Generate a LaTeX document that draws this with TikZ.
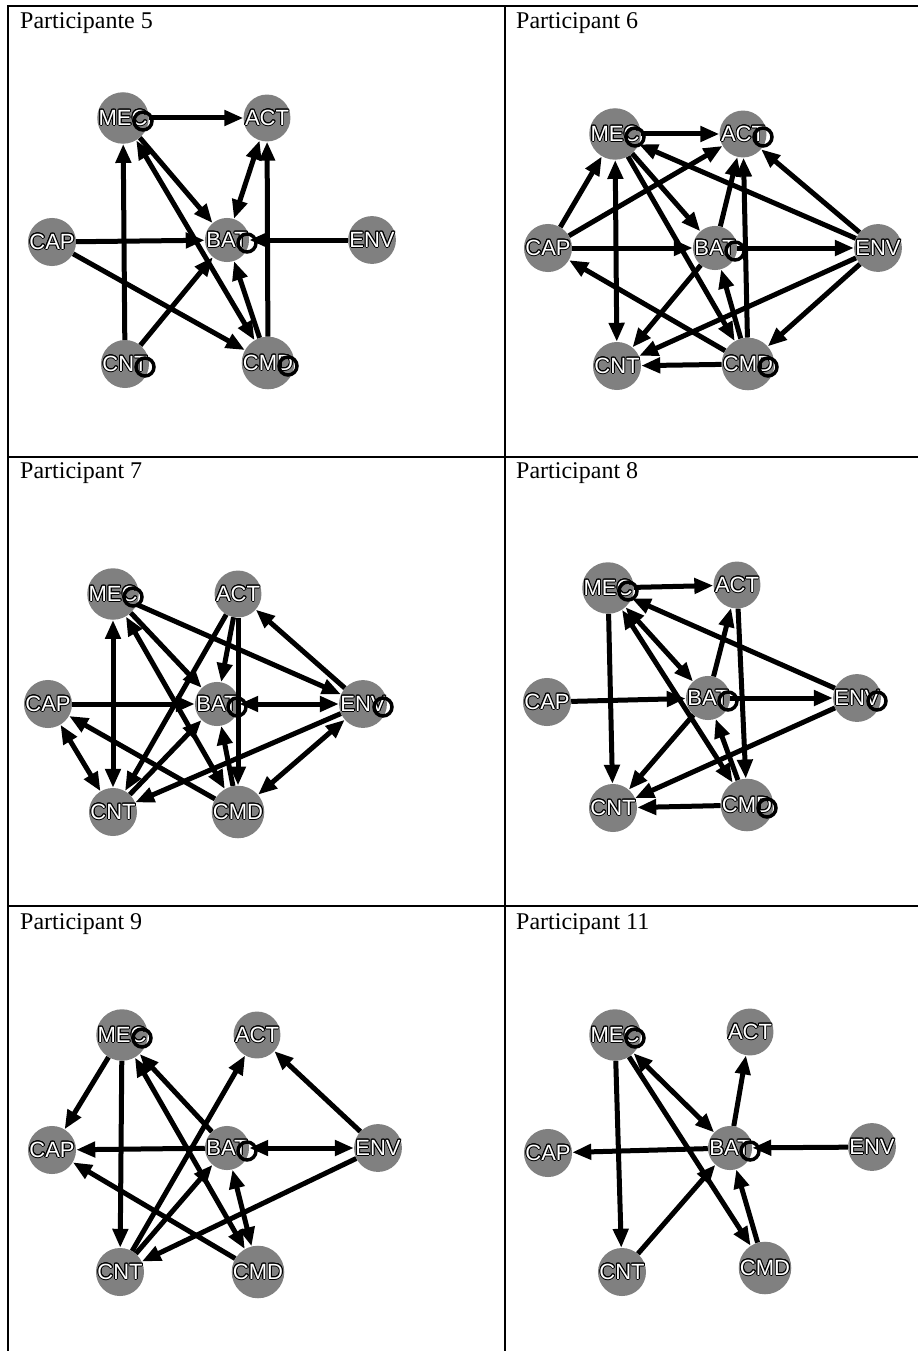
\documentclass[tikz,border=0pt]{standalone}
\usepackage{fontspec}
\setmainfont{Liberation Serif}
\newfontfamily\labfont{Liberation Sans}
\usepackage[copies]{contour}
\contourlength{0.9pt}
\usepackage{tikz}
\usetikzlibrary{arrows.meta, positioning}
\definecolor{nodegray}{RGB}{128,128,128}
\newcommand{\lab}[1]{\contour{black}{#1}}
\tikzstyle{actor} = [circle, fill=nodegray, minimum size=38pt, inner sep=0pt, text=white, font=\labfont\fontsize{22}{22}\selectfont]
\tikzstyle{arrow} = [line width=5pt, -{Triangle[length=19pt,width=15pt]}]
\tikzstyle{both} = [line width=5pt, {Triangle[length=19pt,width=15pt]}-{Triangle[length=19pt,width=15pt]}]
\tikzstyle{selfring} = [line width=3.5pt, draw=black]
\tikzstyle{frame} = [line width=2pt, draw=black]
\tikzstyle{title} = [anchor=base west, inner sep=0pt, font=\fontsize{24}{24}\selectfont]

\begin{document}
\begin{tikzpicture}[x=1pt, y=-1pt]
\useasboundingbox (0,0) rectangle (918,1351);

% table lines
\draw [frame] (8,6.5) -- (918,6.5);
\draw [frame] (8,457) -- (918,457);
\draw [frame] (8,906) -- (918,906);
\draw [frame] (8,5.5) -- (8,1351);
\draw [frame] (505,5.5) -- (505,1351);

\node (t5) [title] at (20,29) {Participante 5};
\node (t6) [title] at (516,29) {Participant 6};
\node (t7) [title] at (20,478) {Participant 7};
\node (t8) [title] at (516,478) {Participant 8};
\node (t9) [title] at (20,929) {Participant 9};
\node (t11) [title] at (516,929) {Participant 11};

% Participante 5
\node (mec5) [actor] at (123,118) {\lab{MEC}};
\node (act5) [actor] at (267,118) {\lab{ACT}};
\node (cap5) [actor] at (52,242) {\lab{CAP}};
\node (bat5) [actor] at (227,240) {\lab{BAT}};
\node (env5) [actor] at (372,240) {\lab{ENV}};
\node (cnt5) [actor] at (125,364) {\lab{CNT}};
\node (cmd5) [actor] at (268,363) {\lab{CMD}};
\draw [arrow] (mec5) -- (act5);
\draw [arrow] (cnt5) -- (mec5);
\draw [arrow] (cmd5) -- (act5);
\draw [both] (act5) -- (bat5);
\draw [arrow] (mec5) -- (bat5);
\draw [both] (mec5) -- (cmd5);
\draw [arrow] (cap5) -- (bat5);
\draw [arrow] (env5) -- (bat5);
\draw [arrow] (cap5) -- (cmd5);
\draw [arrow] (cnt5) -- (bat5);
\draw [arrow] (cmd5) -- (bat5);
\draw [selfring] (mec5.center) ++(20,3) circle (9);
\draw [selfring] (bat5.center) ++(20,3) circle (9);
\draw [selfring] (cnt5.center) ++(20,3) circle (9);
\draw [selfring] (cmd5.center) ++(20,3) circle (9);

% Participant 6
\node (mec6) [actor] at (615,134) {\lab{MEC}};
\node (act6) [actor] at (743,134) {\lab{ACT}};
\node (cap6) [actor] at (548,248) {\lab{CAP}};
\node (bat6) [actor] at (715,248) {\lab{BAT}};
\node (env6) [actor] at (878,248) {\lab{ENV}};
\node (cnt6) [actor] at (617,366) {\lab{CNT}};
\node (cmd6) [actor] at (748,364) {\lab{CMD}};
\draw [arrow] (mec6) -- (act6);
\draw [arrow] (cap6) -- (mec6);
\draw [arrow] (cap6) -- (act6);
\draw [arrow] (cap6) -- (bat6);
\draw [arrow] (cmd6) -- (cap6);
\draw [both] (mec6) -- (cnt6);
\draw [arrow] (mec6) -- (bat6);
\draw [arrow] (mec6) -- (cmd6);
\draw [arrow] (env6) -- (mec6);
\draw [arrow] (env6) -- (act6);
\draw [arrow] (bat6) -- (act6);
\draw [arrow] (cmd6) -- (act6);
\draw [arrow] (bat6) -- (env6);
\draw [arrow] (bat6) -- (cnt6);
\draw [arrow] (env6) -- (cnt6);
\draw [arrow] (env6) -- (cmd6);
\draw [arrow] (cmd6) -- (cnt6);
\draw [arrow] (cmd6) -- (bat6);
\draw [selfring] (mec6.center) ++(20,3) circle (9);
\draw [selfring] (act6.center) ++(20,3) circle (9);
\draw [selfring] (bat6.center) ++(20,3) circle (9);
\draw [selfring] (cmd6.center) ++(20,3) circle (9);

% Participant 7
\node (mec7) [actor] at (113,594) {\lab{MEC}};
\node (act7) [actor] at (238,594) {\lab{ACT}};
\node (cap7) [actor] at (48,704) {\lab{CAP}};
\node (bat7) [actor] at (217,704) {\lab{BAT}};
\node (env7) [actor] at (363,704) {\lab{ENV}};
\node (cnt7) [actor] at (113,812) {\lab{CNT}};
\node (cmd7) [actor] at (238,812) {\lab{CMD}};
\draw [both] (mec7) -- (cnt7);
\draw [arrow] (mec7) -- (bat7);
\draw [both] (mec7) -- (cmd7);
\draw [arrow] (mec7) -- (env7);
\draw [arrow] (env7) -- (act7);
\draw [arrow] (act7) -- (bat7);
\draw [arrow] (act7) -- (cmd7);
\draw [arrow] (act7) -- (cnt7);
\draw [arrow] (cap7) -- (bat7);
\draw [both] (bat7) -- (env7);
\draw [both] (cap7) -- (cnt7);
\draw [arrow] (cmd7) -- (cap7);
\draw [arrow] (cnt7) -- (bat7);
\draw [arrow] (cmd7) -- (bat7);
\draw [arrow] (env7) -- (cnt7);
\draw [both] (env7) -- (cmd7);
\draw [selfring] (mec7.center) ++(20,3) circle (9);
\draw [selfring] (bat7.center) ++(20,3) circle (9);
\draw [selfring] (env7.center) ++(20,3) circle (9);

% Participant 8
\node (mec8) [actor] at (608,588) {\lab{MEC}};
\node (act8) [actor] at (737,585) {\lab{ACT}};
\node (cap8) [actor] at (547,702) {\lab{CAP}};
\node (bat8) [actor] at (708,698) {\lab{BAT}};
\node (env8) [actor] at (857,698) {\lab{ENV}};
\node (cnt8) [actor] at (613,808) {\lab{CNT}};
\node (cmd8) [actor] at (747,805) {\lab{CMD}};
\draw [arrow] (mec8) -- (act8);
\draw [arrow] (mec8) -- (cnt8);
\draw [arrow] (env8) -- (mec8);
\draw [both] (mec8) -- (bat8);
\draw [both] (mec8) -- (cmd8);
\draw [arrow] (bat8) -- (act8);
\draw [arrow] (act8) -- (cmd8);
\draw [arrow] (cap8) -- (bat8);
\draw [arrow] (bat8) -- (env8);
\draw [arrow] (bat8) -- (cnt8);
\draw [arrow] (env8) -- (cnt8);
\draw [arrow] (cmd8) -- (cnt8);
\draw [arrow] (cmd8) -- (bat8);
\draw [selfring] (mec8.center) ++(20,3) circle (9);
\draw [selfring] (bat8.center) ++(20,3) circle (9);
\draw [selfring] (env8.center) ++(20,3) circle (9);
\draw [selfring] (cmd8.center) ++(20,3) circle (9);

% Participant 9
\node (mec9) [actor] at (122,1035) {\lab{MEC}};
\node (act9) [actor] at (257,1035) {\lab{ACT}};
\node (cap9) [actor] at (52,1150) {\lab{CAP}};
\node (bat9) [actor] at (227,1148) {\lab{BAT}};
\node (env9) [actor] at (378,1148) {\lab{ENV}};
\node (cnt9) [actor] at (120,1272) {\lab{CNT}};
\node (cmd9) [actor] at (258,1272) {\lab{CMD}};
\draw [arrow] (mec9) -- (cap9);
\draw [arrow] (mec9) -- (cnt9);
\draw [arrow] (bat9) -- (mec9);
\draw [both] (mec9) -- (cmd9);
\draw [arrow] (bat9) -- (cap9);
\draw [both] (bat9) -- (env9);
\draw [arrow] (env9) -- (act9);
\draw [arrow] (cnt9) -- (act9);
\draw [arrow] (cnt9) -- (bat9);
\draw [arrow] (env9) -- (cnt9);
\draw [arrow] (cmd9) -- (cap9);
\draw [both] (bat9) -- (cmd9);
\draw [selfring] (mec9.center) ++(20,3) circle (9);
\draw [selfring] (bat9.center) ++(20,3) circle (9);

% Participant 11
\node (mec11) [actor] at (615,1035) {\lab{MEC}};
\node (act11) [actor] at (750,1032) {\lab{ACT}};
\node (cap11) [actor] at (548,1153) {\lab{CAP}};
\node (bat11) [actor] at (730,1148) {\lab{BAT}};
\node (env11) [actor] at (872,1147) {\lab{ENV}};
\node (cnt11) [actor] at (622,1272) {\lab{CNT}};
\node (cmd11) [actor] at (765,1268) {\lab{CMD}};
\draw [arrow] (mec11) -- (cnt11);
\draw [both] (mec11) -- (bat11);
\draw [arrow] (mec11) -- (cmd11);
\draw [arrow] (bat11) -- (act11);
\draw [arrow] (bat11) -- (cap11);
\draw [arrow] (env11) -- (bat11);
\draw [arrow] (cnt11) -- (bat11);
\draw [arrow] (cmd11) -- (bat11);
\draw [selfring] (mec11.center) ++(20,3) circle (9);
\draw [selfring] (bat11.center) ++(20,3) circle (9);

\end{tikzpicture}
\end{document}
